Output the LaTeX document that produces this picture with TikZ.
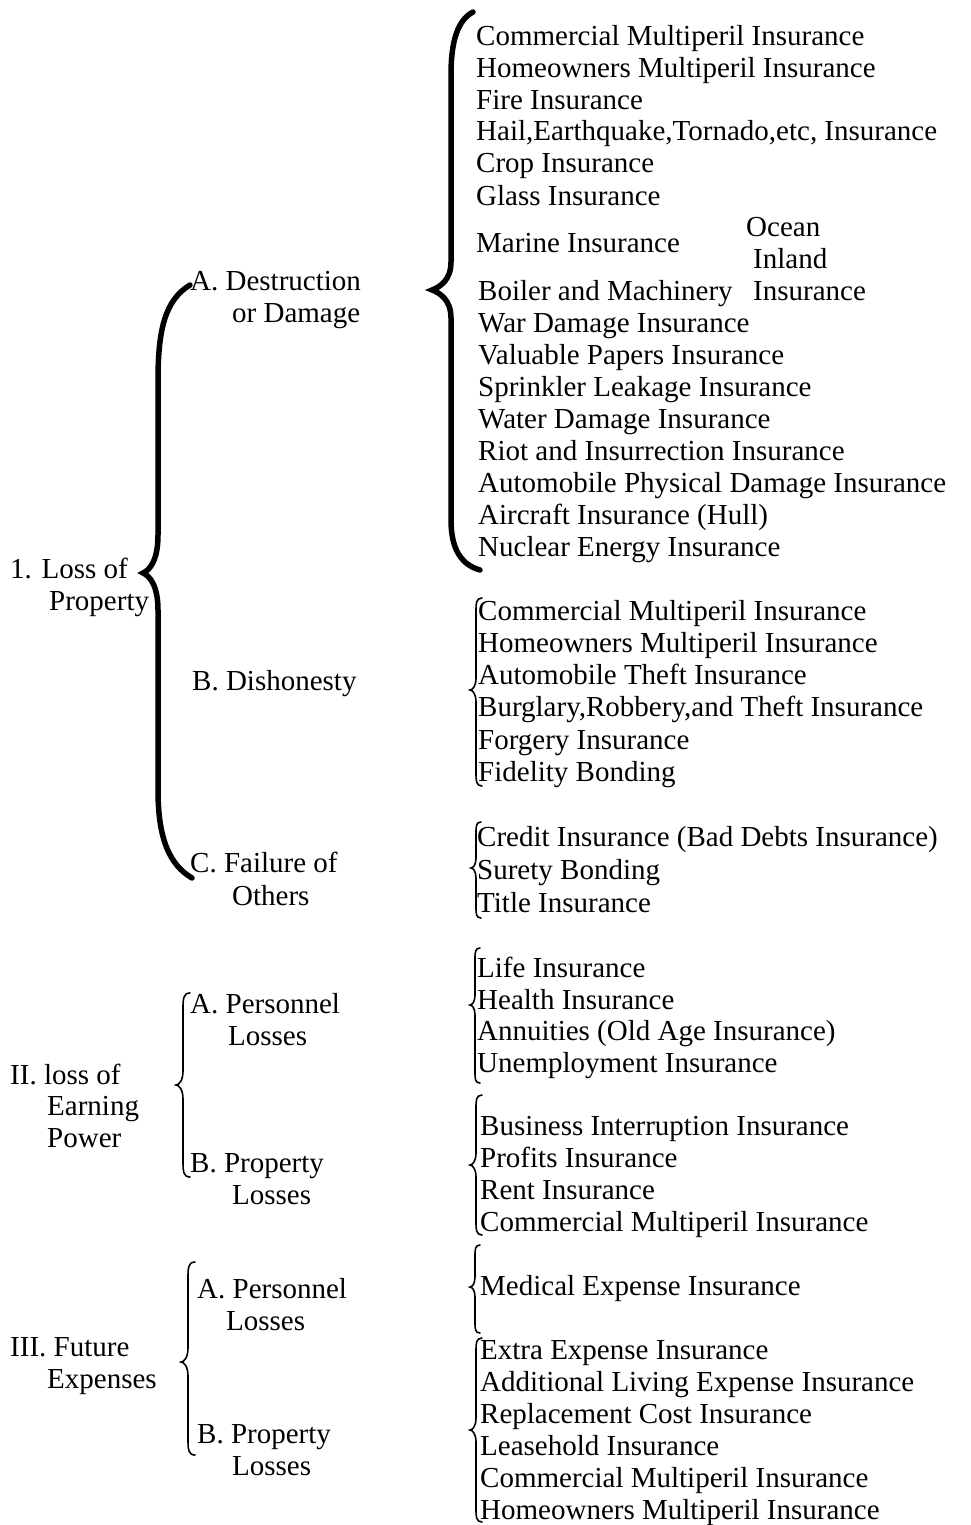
\documentclass[tikz,border=0pt]{standalone}
\usepackage{fontspec}
\setmainfont{Liberation Serif}
\newcommand\mybrace[6]{%
 \draw[#6] ({#1+#5},#2) .. controls ({#1+0.5*#5},#2) and ({#1+0.5*#5},{#2+0.5*#5}) .. ({#1+0.5*#5},{#2+#5})
   -- ({#1+0.5*#5},{#3-#5}) .. controls ({#1+0.5*#5},{#3-0.3*#5}) and ({#1+0.2*#5},#3) .. (#1,#3)
   .. controls ({#1+0.2*#5},#3) and ({#1+0.5*#5},{#3+0.3*#5}) .. ({#1+0.5*#5},{#3+#5})
   -- ({#1+0.5*#5},{#4-#5}) .. controls ({#1+0.5*#5},{#4-0.5*#5}) and ({#1+0.5*#5},#4) .. ({#1+#5},#4);}
\begin{document}
\begin{tikzpicture}[x=1pt,y=-1pt,
  txt/.style={anchor=base west, inner sep=0pt, font=\fontsize{29}{32}\selectfont},
  lbl/.style={anchor=base west, inner sep=0pt, font=\fontsize{29}{32}\selectfont},
  bigbrace/.style={line width=5.5pt, line cap=round},
  smallbrace/.style={line width=1.6pt, line cap=round}]
\useasboundingbox[fill=white] (0,0) rectangle (970,1525);
% left labels
\node[lbl] (L1a) at (10,578) {1. Loss of};
\node[lbl] (L1b) at (49,610) {Property};
\node[lbl] (L1Aa) at (190,290) {A. Destruction};
\node[lbl] (L1Ab) at (232,322) {or Damage};
\node[lbl] (L1B) at (192,690) {B. Dishonesty};
\node[lbl] (L1Ca) at (190,872) {C. Failure of};
\node[lbl] (L1Cb) at (232,905) {Others};
\node[lbl] (L2a) at (10,1084) {II. loss of};
\node[lbl] (L2b) at (47,1115) {Earning};
\node[lbl] (L2c) at (47,1147) {Power};
\node[lbl] (L2Aa) at (190,1013) {A. Personnel};
\node[lbl] (L2Ab) at (228,1045) {Losses};
\node[lbl] (L2Ba) at (190,1172) {B. Property};
\node[lbl] (L2Bb) at (232,1204) {Losses};
\node[lbl] (L3a) at (10,1356) {III. Future};
\node[lbl] (L3b) at (47,1388) {Expenses};
\node[lbl] (L3Aa) at (197,1298) {A. Personnel};
\node[lbl] (L3Ab) at (226,1330) {Losses};
\node[lbl] (L3Ba) at (197,1443) {B. Property};
\node[lbl] (L3Bb) at (232,1475) {Losses};
% group 1A
\node[txt] (a1) at (476,46) {Commercial Multiperil Insurance};
\node[txt] (a2) at (476,78) {Homeowners Multiperil Insurance};
\node[txt] (a3) at (476,110) {Fire Insurance};
\node[txt] (a4) at (476,141) {Hail,Earthquake,Tornado,etc, Insurance};
\node[txt] (a5) at (476,173) {Crop Insurance};
\node[txt] (a6) at (476,205) {Glass Insurance};
\node[txt] (a7) at (476,252) {Marine Insurance};
\node[txt] (a7o) at (746,236) {Ocean};
\node[txt] (a7i) at (753,268) {Inland};
\node[txt] (a8) at (478,300) {Boiler and Machinery};
\node[txt] (a8i) at (753,300) {Insurance};
\node[txt] (a9) at (478,332) {War Damage Insurance};
\node[txt] (a10) at (478,364) {Valuable Papers Insurance};
\node[txt] (a11) at (478,396) {Sprinkler Leakage Insurance};
\node[txt] (a12) at (478,428) {Water Damage Insurance};
\node[txt] (a13) at (478,460) {Riot and Insurrection Insurance};
\node[txt] (a14) at (478,492) {Automobile Physical Damage Insurance};
\node[txt] (a15) at (478,524) {Aircraft Insurance (Hull)};
\node[txt] (a16) at (478,556) {Nuclear Energy Insurance};
% group 1B
\node[txt] (b1) at (478,620) {Commercial Multiperil Insurance};
\node[txt] (b2) at (478,652) {Homeowners Multiperil Insurance};
\node[txt] (b3) at (478,684) {Automobile Theft Insurance};
\node[txt] (b4) at (478,716) {Burglary,Robbery,and Theft Insurance};
\node[txt] (b5) at (478,749) {Forgery Insurance};
\node[txt] (b6) at (478,781) {Fidelity Bonding};
% group 1C
\node[txt] (c1) at (477,846) {Credit Insurance (Bad Debts Insurance)};
\node[txt] (c2) at (477,879) {Surety Bonding};
\node[txt] (c3) at (477,912) {Title Insurance};
% group IIA
\node[txt] (d1) at (477,977) {Life Insurance};
\node[txt] (d2) at (477,1009) {Health Insurance};
\node[txt] (d3) at (477,1040) {Annuities (Old Age Insurance)};
\node[txt] (d4) at (477,1072) {Unemployment Insurance};
% group IIB
\node[txt] (e1) at (480,1135) {Business Interruption Insurance};
\node[txt] (e2) at (480,1167) {Profits Insurance};
\node[txt] (e3) at (480,1199) {Rent Insurance};
\node[txt] (e4) at (480,1231) {Commercial Multiperil Insurance};
% group IIIA
\node[txt] (f1) at (480,1295) {Medical Expense Insurance};
% group IIIB
\node[txt] (g1) at (480,1359) {Extra Expense Insurance};
\node[txt] (g2) at (480,1391) {Additional Living Expense Insurance};
\node[txt] (g3) at (480,1423) {Replacement Cost Insurance};
\node[txt] (g4) at (480,1455) {Leasehold Insurance};
\node[txt] (g5) at (480,1487) {Commercial Multiperil Insurance};
\node[txt] (g6) at (480,1519) {Homeowners Multiperil Insurance};
% big braces
\draw[bigbrace] (190,285) .. controls (165,300) and (158,330) .. (158,380) -- (158,535)
  .. controls (158,560) and (150,570) .. (143,573) .. controls (150,576) and (158,586) .. (158,610)
  -- (158,790) .. controls (158,840) and (170,865) .. (192,878);
\draw[bigbrace] (473,12) .. controls (458,20) and (451,40) .. (451,75) -- (451,262)
  .. controls (451,280) and (440,287) .. (432,290) .. controls (440,293) and (451,300) .. (451,318)
  -- (451,520) .. controls (451,550) and (462,565) .. (480,570);
% small braces
\mybrace{470}{598}{690}{786}{12}{smallbrace}
\mybrace{471}{822}{868}{918}{10}{smallbrace}
\mybrace{470}{948}{1005}{1083}{10}{smallbrace}
\mybrace{470}{1095}{1165}{1235}{12}{smallbrace}
\mybrace{470}{1245}{1287}{1333}{10}{smallbrace}
\mybrace{470}{1338}{1430}{1522}{12}{smallbrace}
\mybrace{176}{993}{1085}{1177}{14}{smallbrace}
\mybrace{181}{1262}{1362}{1455}{14}{smallbrace}
\end{tikzpicture}
\end{document}
